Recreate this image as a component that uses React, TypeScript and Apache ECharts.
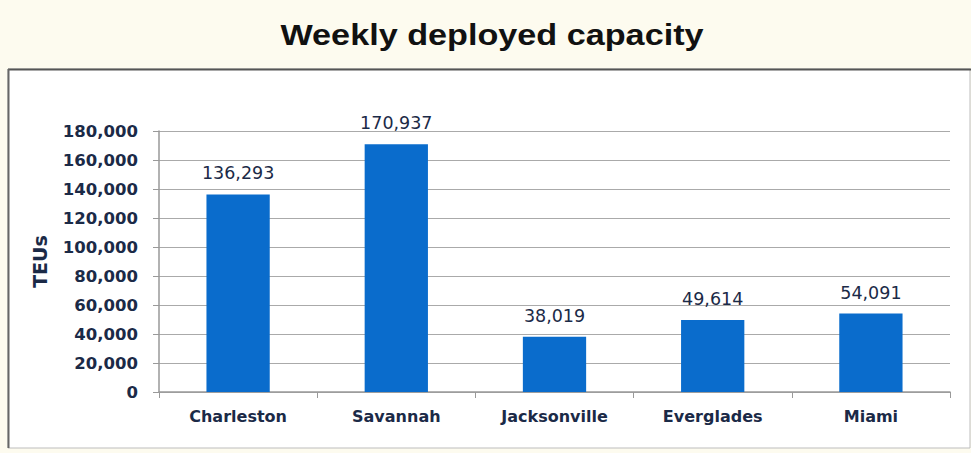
import React, { useEffect, useRef } from "react";
import * as echarts from "echarts";

const categories = ["Charleston", "Savannah", "Jacksonville", "Everglades", "Miami"];
const capacity = [136293, 170937, 38019, 49614, 54091];
const titleText = "Weekly deployed capacity";
const yAxisName = "TEUs";

export default function App() {
  const ref = useRef<HTMLDivElement>(null);
  useEffect(() => {
    document.body.style.margin = "0";
    document.body.style.background = "#fdfbef";
    const chart = echarts.init(ref.current!, null, { renderer: "svg" });
    const navy = "#1b2a47";
    chart.setOption({
      animation: false,
      backgroundColor: "#fdfbef",
      graphic: [
        {
          type: "rect",
          shape: { x: 8, y: 69, width: 962, height: 379 },
          style: { fill: "#ffffff", stroke: "#bdbdbd", lineWidth: 1 },
          z: -10,
        },
        {
          type: "line",
          shape: { x1: 8, y1: 69.5, x2: 971, y2: 69.5 },
          style: { stroke: "#555", lineWidth: 2 },
          z: -9,
        },
        {
          type: "line",
          shape: { x1: 8.5, y1: 69, x2: 8.5, y2: 448 },
          style: { stroke: "#666", lineWidth: 2 },
          z: -9,
        },
        {
          type: "text",
          x: 492,
          y: 35,
          scaleX: 1.14,
          style: {
            text: titleText,
            fontFamily: "Liberation Sans",
            fontWeight: "bold",
            fontSize: 30,
            fill: "#111",
            align: "center",
            verticalAlign: "middle",
          },
        },
      ],
      grid: { left: 159, right: 21, top: 131, bottom: 61 },
      xAxis: {
        type: "category",
        data: categories,
        axisLine: { show: true, lineStyle: { color: "#999", width: 1.5 } },
        axisTick: { show: true, length: 6, lineStyle: { color: "#999" } },
        axisLabel: {
          color: navy,
          fontFamily: "DejaVu Sans",
          fontWeight: "bold",
          fontSize: 16,
          margin: 16,
        },
      },
      yAxis: {
        type: "value",
        min: 0,
        max: 180000,
        interval: 20000,
        name: yAxisName,
        nameLocation: "middle",
        nameGap: 110,
        nameTextStyle: { color: navy, fontFamily: "DejaVu Sans", fontWeight: "bold", fontSize: 19 },
        axisLine: { show: true, lineStyle: { color: "#999", width: 1.5 } },
        axisTick: { show: true, length: 6, lineStyle: { color: "#999" } },
        splitLine: { show: true, lineStyle: { color: "#aaa", width: 1 } },
        axisLabel: {
          color: navy,
          fontFamily: "DejaVu Sans",
          fontWeight: "bold",
          fontSize: 16.5,
          margin: 21,
          formatter: (v: number) => v.toLocaleString("en-US"),
        },
      },
      series: [
        {
          type: "bar",
          data: capacity,
          barWidth: "40%",
          itemStyle: { color: "#0a6ccc" },
          label: {
            show: true,
            position: "top",
            distance: 12,
            color: navy,
            fontFamily: "DejaVu Sans",
            fontSize: 17.5,
            formatter: (p: any) => Number(p.value).toLocaleString("en-US"),
          },
        },
      ],
    });
    return () => chart.dispose();
  }, []);
  return <div ref={ref} style={{ width: 971, height: 453 }} />;
}
